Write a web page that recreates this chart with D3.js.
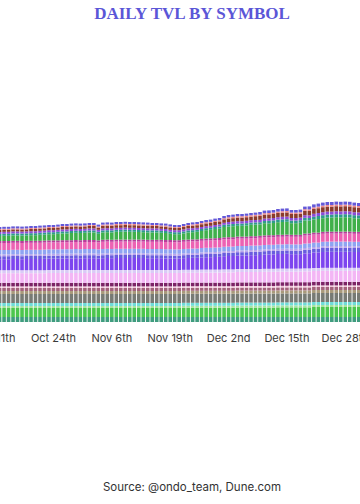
<!DOCTYPE html>
<html><head><meta charset="utf-8">
<script src="https://cdn.jsdelivr.net/npm/d3@7"></script>
<style>html,body{margin:0;padding:0;background:#fff;}svg{display:block;}</style>
</head><body>
<svg id="chart" width="360" height="504"></svg>
<script>
// ---- categories ----
const firstDay = "2025-10-11";
const lastDay = "2026-01-01";
const tickDates = ["2025-10-11","2025-10-24","2025-11-06","2025-11-19","2025-12-02","2025-12-15","2025-12-28"];
const tickLabels = ["Oct 11th","Oct 24th","Nov 6th","Nov 19th","Dec 2nd","Dec 15th","Dec 28th"];

// ---- series values (TVL, $M), bottom to top ----
const s01 = [25,25,25,25,25,25,25,25,25,25, 25,25,25,25,25,25,25,25,25,25, 25,25,25,25,25,25,25,25,25,25, 25,25,25,25,25,25,25,25,25,25, 25,25,25,25,25,25,25,25,25,25, 25,25,25,25,25,25,25,25,25,25, 25,25,25,25,25,25,25,25,25,25, 25,25,25,25,25,25,25,25,25,25, 25,25,25];
const s02 = [45,45,45,45,45,45,45,45,45,45, 45,45,45,45,45,45,45,45,45,45, 45,45,45,45,45,45,45,45,45,45, 45,45,45,45,45,45,45,45,45,45, 45,45,46,46,46,46,46,46,46,46, 46,46,46,46,47,47,47,47,47,47, 47,47,47,48,48,48,48,48,48,48, 48,50,50,50,50,50,50,50,50,50, 50,50,50];
const s03 = [10,10,10,10,10,10,10,10,10,10, 10,10,10,10,10,10,10,10,10,10, 10,10,10,10,10,10,10,10,10,10, 10,10,10,10,10,10,10,10,10,10, 10,10,10,10,10,10,10,10,10,10, 10,10,10,10,10,10,10,10,10,10, 10,10,10,10,10,10,10,10,10,10, 10,10,10,10,10,10,10,10,10,10, 10,10,10];
const s04 = [15,15,15,15,15,15,15,15,15,15, 15,15,15,15,15,15,15,15,15,15, 15,15,15,15,15,15,15,15,15,15, 15,15,15,15,15,15,15,15,15,15, 15,15,15,15,15,15,15,15,15,15, 15,15,15,15,15,15,15,15,15,15, 15,15,15,15,15,15,15,15,15,15, 15,15,15,15,15,15,15,15,15,15, 15,15,15];
const s05 = [45,45,45,45,45,45,45,45,45,45, 45,45,45,45,45,45,45,45,45,45, 45,45,45,45,45,45,45,45,45,45, 45,45,45,45,45,45,45,45,45,45, 45,45,45,45,45,45,45,45,45,45, 45,45,45,45,45,45,45,45,45,45, 45,45,45,45,45,45,45,45,45,45, 45,45,45,45,45,45,45,45,45,45, 45,45,45];
const s06 = [15,15,15,15,15,15,15,15,15,15, 15,15,15,15,15,15,15,15,15,15, 15,15,15,15,15,15,15,15,15,15, 15,15,15,15,15,15,15,15,15,15, 15,15,15,15,15,15,15,15,15,15, 15,15,15,15,15,15,15,15,15,15, 15,15,15,15,15,15,15,15,15,15, 15,15,15,15,15,15,15,15,15,15, 15,15,15];
const s07 = [15,15,15,15,15,15,15,15,15,15, 15,15,15,15,15,15,15,15,15,15, 15,15,15,15,15,15,15,15,15,15, 15,15,15,15,15,15,15,15,15,15, 15,15,15,15,15,15,15,15,15,15, 15,15,15,15,15,15,15,15,15,15, 15,15,15,15,15,15,15,15,15,15, 15,15,15,15,15,15,15,15,15,15, 15,15,15];
const s08 = [8,8,8,8,8,8,8,8,8,8, 8,8,8,8,8,8,8,8,8,8, 8,8,8,8,8,8,8,8,8,8, 8,8,8,8,8,8,8,8,8,8, 8,8,8,8,8,8,8,8,8,8, 8,8,8,8,8,8,8,8,8,8, 8,8,8,8,8,8,8,8,8,8, 8,8,8,8,8,8,8,8,8,8, 8,8,8];
const s09 = [18,18,18,18,18,18,18,18,18,18, 18,18,18,18,18,18,18,18,18,18, 18,18,18,18,18,18,18,18,18,18, 18,18,18,18,18,18,18,18,18,18, 18,18,18,18,18,18,18,18,18,18, 18,18,18,18,18,18,18,18,18,18, 18,18,18,18,18,18,18,18,18,18, 18,18,18,18,18,18,18,18,18,18, 18,18,18];
const s10 = [48,48,48,48,48,48,48,48,48,48, 48,48,49,49,49,49,49,49,49,49, 49,49,49,49,49,49,49,49,49,49, 49,49,49,49,49,49,49,49,49,49, 49,49,49,49,49,49,50,50,50,50, 50,51,51,51,52,52,52,52,52,52, 53,53,53,53,53,53,53,53,53,54, 54,54,54,55,55,55,55,55,55,55, 55,55,55];
const s11 = [15,15,15,15,15,15,15,15,15,15, 15,15,15,15,15,15,15,15,15,15, 15,15,15,15,15,15,15,15,15,15, 15,15,15,15,15,15,15,15,15,15, 15,15,15,15,15,15,15,15,15,15, 15,15,15,15,15,15,15,15,15,15, 15,15,15,15,15,15,15,15,15,15, 15,15,15,15,15,15,15,15,15,15, 15,15,15];
const s12 = [55,55,55,55,56,56,55,56,56,56, 56,57,57,57,57,58,58,58,59,58, 59,59,59,57,59,60,59,60,60,60, 60,60,60,60,59,59,59,59,58,58, 57,57,58,59,60,60,61,62,62,63, 64,66,67,67,68,68,68,69,69,70, 71,72,72,73,73,74,72,72,72,75, 76,78,78,79,80,80,80,80,80,80, 79,79,79];
const s13 = [15,15,15,15,15,15,15,15,15,15, 15,15,15,15,15,15,15,15,15,15, 15,15,15,15,15,15,15,15,15,15, 15,15,15,15,15,15,15,15,15,15, 15,15,15,15,15,15,16,16,16,16, 16,16,16,16,16,16,16,17,17,17, 17,17,17,17,17,17,18,18,18,18, 18,18,18,20,20,20,20,20,20,20, 20,20,20];
const s14 = [9,9,9,9,9,9,9,9,9,9, 9,9,9,9,9,9,9,9,9,9, 9,9,9,9,9,9,9,9,9,9, 9,9,9,9,9,9,9,9,9,9, 9,9,9,9,9,9,9,9,9,9, 9,9,9,9,9,9,9,9,9,9, 9,9,9,9,9,9,9,9,9,9, 9,9,9,9,9,9,9,9,9,9, 9,9,9];
const s15 = [22,22,22,22,22,22,22,22,22,22, 22,22,22,22,22,22,22,22,22,22, 22,22,22,22,22,22,22,22,22,22, 22,22,22,22,22,22,22,22,22,22, 22,22,22,22,22,22,22,22,22,22, 22,22,22,22,22,22,22,22,22,22, 22,22,22,22,22,22,22,22,22,22, 22,22,22,22,22,22,22,22,22,22, 22,22,22];
const s16 = [35,35,35,35,35,35,35,35,35,35, 35,35,35,35,35,35,35,35,35,35, 35,35,35,35,36,36,36,36,36,36, 36,36,36,36,36,36,36,36,36,36, 36,36,36,36,36,36,36,36,37,37, 37,37,37,37,37,37,37,37,37,38, 38,38,38,38,38,38,38,38,38,40, 40,40,40,40,40,40,40,40,40,40, 40,40,40];
const s17 = [10,10,10,10,10,10,10,10,10,10, 10,10,10,10,10,10,10,10,10,10, 10,10,10,10,10,10,10,10,10,10, 10,10,10,10,10,10,10,10,10,10, 10,10,10,10,10,10,10,10,10,10, 10,10,10,10,10,10,10,10,10,10, 10,10,10,10,10,10,10,10,10,10, 10,10,10,10,10,10,10,10,10,10, 10,10,10];
const s18 = [25,25,26,26,27,27,27,27,28,28, 30,30,31,31,33,34,34,36,36,36, 36,38,38,33,37,37,37,39,39,40, 39,39,38,37,37,37,37,35,35,31, 30,30,32,36,36,38,39,42,43,46, 47,52,53,55,54,54,56,57,58,57, 61,59,61,63,64,64,58,58,60,66, 64,66,68,68,70,70,72,71,72,71, 68,67,67];
const s19 = [10,10,10,10,10,10,10,10,10,10, 10,10,10,10,10,10,10,10,10,10, 10,10,10,10,10,10,10,10,10,10, 10,10,10,10,10,10,10,10,10,10, 10,10,10,10,10,10,10,10,10,10, 11,11,11,11,11,11,11,11,11,11, 11,13,13,13,13,13,13,13,13,13, 13,13,15,15,15,15,15,15,15,15, 15,15,15];
const s20 = [10,10,10,10,10,10,10,10,10,10, 10,10,10,10,10,10,10,10,10,10, 10,10,10,10,10,10,10,10,10,10, 10,10,10,10,10,10,10,10,10,10, 10,10,10,10,10,10,10,10,10,10, 10,10,12,12,12,12,12,12,12,12, 12,12,12,12,13,13,13,13,13,13, 13,15,15,15,15,15,15,15,15,15, 15,15,15];
const s21 = [10,10,10,10,10,10,10,10,11,11, 11,11,11,11,11,12,12,12,12,12, 12,12,12,11,13,13,13,13,13,13, 13,13,13,13,13,12,12,12,12,12, 11,11,12,12,13,13,14,14,14,15, 15,17,17,17,18,18,18,18,19,19, 20,20,20,21,21,21,20,20,20,22, 22,24,24,25,25,25,25,25,25,25, 25,24,24];
const s22 = [5,5,5,5,5,5,5,5,5,5, 5,5,5,5,5,5,5,5,5,5, 5,5,5,5,6,6,6,6,6,6, 6,6,6,6,6,5,5,5,5,5, 5,5,5,5,6,6,6,6,6,6, 6,6,7,7,7,7,7,7,7,7, 7,7,7,7,7,7,7,7,7,8, 8,8,8,8,8,8,8,8,8,8, 8,8,8];
const s23 = [10,10,10,10,10,10,10,10,10,10, 10,10,10,10,10,10,10,10,10,10, 10,10,10,10,10,10,10,10,10,10, 10,10,10,10,10,10,10,10,10,10, 10,10,10,10,10,10,10,11,11,11, 11,11,11,11,11,11,11,11,11,13, 13,13,13,13,13,13,13,13,13,13, 15,15,15,15,15,15,15,15,15,15, 15,15,15];

const symbols = ["SPYon","QQQon","IVVon","TLTon","AAPLon","MSFTon","AMZNon","METAon","GOOGLon","NVDAon","AVGOon","TSLAon","COINon","MSTRon","HOODon","PLTRon","AMDon","CRCLon","NFLXon","ORCLon","IAUon","SLVon","BABAon"];
const seriesValues = [s01,s02,s03,s04,s05,s06,s07,s08,s09,s10,s11,s12,s13,s14,s15,s16,s17,s18,s19,s20,s21,s22,s23];
const colors = ["#3f9c7e","#4cc64e","#a6e4a0","#6fdcd8","#777a74","#a99a7c","#a3627c","#f4c6dc","#7c2366","#f3b6f5","#dacaf6","#7d45ef","#6a5cdf","#b9a4ec","#8fa3f2","#ec62b3","#b83d9b","#40b04b","#2f9c8b","#8b4cd7","#8a3b2d","#f08a8a","#6459d8"];

// ---- build ----
const parse = d3.utcParse("%Y-%m-%d");
const days = d3.utcDay.range(parse(firstDay), d3.utcDay.offset(parse(lastDay), 1));
const rows = days.map((d, i) => {
  const r = { date: d };
  symbols.forEach((s, k) => { r[s] = seriesValues[k][i]; });
  return r;
});
const stacked = d3.stack().keys(symbols)(rows);

const svg = d3.select("#chart");

const x = d3.scaleBand().domain(days.map(d => +d)).range([-7.15, 365.5]).paddingInner(0.2).paddingOuter(0.1);
const y = d3.scaleLinear().domain([0, 610]).range([322, 200]);

const gBars = svg.append("g");
gBars.selectAll("g.layer").data(stacked).join("g")
  .attr("class", "layer")
  .attr("fill", (d, i) => colors[i])
  .selectAll("rect").data(d => d).join("rect")
  .attr("x", d => x(+d.data.date))
  .attr("width", x.bandwidth())
  .attr("y", d => y(d[1]))
  .attr("height", d => Math.max(0, y(d[0]) - y(d[1])));

// x axis
const tickMap = new Map(tickDates.map((t, i) => [+parse(t), tickLabels[i]]));
const xAxis = d3.axisBottom(x)
  .tickValues(tickDates.map(t => +parse(t)))
  .tickFormat(v => tickMap.get(v))
  .tickSize(0).tickPadding(12);
const gx = svg.append("g").attr("transform", "translate(0,322)").call(xAxis);
gx.select(".domain").remove();
gx.selectAll("text").attr("font-family", "Inter, 'Noto Sans', sans-serif").attr("font-size", 11).attr("fill", "#3a3a3a");

// title
svg.append("text").attr("x", 192).attr("y", 19).attr("text-anchor", "middle")
  .attr("font-family", "'Liberation Serif', 'DejaVu Serif', serif").attr("font-weight", "bold")
  .attr("font-size", 17).attr("fill", "#5b56d7").text("DAILY TVL BY SYMBOL");

// source
svg.append("text").attr("x", 192).attr("y", 491).attr("text-anchor", "middle")
  .attr("font-family", "Inter, 'Noto Sans', sans-serif").attr("font-size", 11.5)
  .attr("fill", "#333").text("Source: @ondo_team, Dune.com");
</script>
</body></html>
